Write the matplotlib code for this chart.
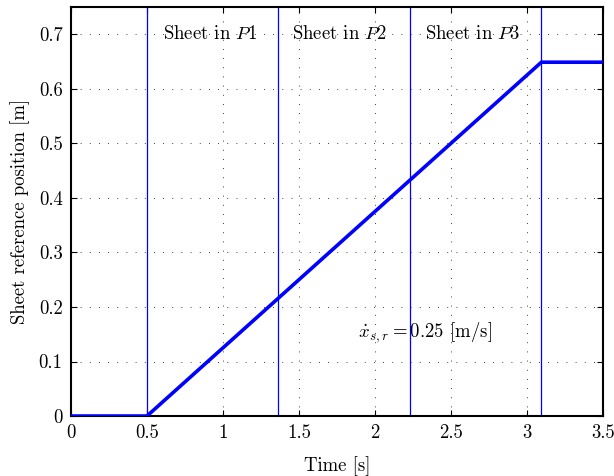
import numpy as np
import matplotlib
matplotlib.use("Agg")
import matplotlib.pyplot as plt

plt.rcParams['font.family'] = ['cmr10', 'DejaVu Serif']
plt.rcParams['mathtext.fontset'] = 'cm'
plt.rcParams['axes.formatter.use_mathtext'] = True

# reference trajectory (time [s], position [m])
time_pts = [0.0, 0.5, 3.095, 3.5]
pos_pts = [0.0, 0.0, 0.649, 0.649]

# sheet passing boundaries
boundary_times = [0.5, 1.365, 2.23, 3.095]

region_labels = [r'Sheet in $\mathit{P1}$', r'Sheet in $\mathit{P2}$', r'Sheet in $\mathit{P3}$']
region_label_x = [0.92, 1.77, 2.64]
region_label_y = 0.70

speed_text = r'$\dot{x}_{s,r} = 0.25$ [m/s]'
speed_text_x = 1.89
speed_text_y = 0.152

x_ticks = [0, 0.5, 1, 1.5, 2, 2.5, 3, 3.5]
x_ticklabels = ['0', '0.5', '1', '1.5', '2', '2.5', '3', '3.5']
y_ticks = [0, 0.1, 0.2, 0.3, 0.4, 0.5, 0.6, 0.7]
y_ticklabels = ['0', '0.1', '0.2', '0.3', '0.4', '0.5', '0.6', '0.7']

fig = plt.figure(figsize=(6.14, 4.76), dpi=100)
ax = fig.add_axes([0.1156, 0.126, 0.8664, 0.859])

for t in boundary_times:
    ax.axvline(t, color='blue', linewidth=0.9, zorder=2)

ax.plot(time_pts, pos_pts, color='blue', linewidth=2.6, zorder=3)

for lab, lx in zip(region_labels, region_label_x):
    ax.text(lx, region_label_y, lab, ha='center', va='center', fontsize=13.5, zorder=4)

ax.text(speed_text_x, speed_text_y, speed_text, ha='left', va='center', fontsize=13.5, zorder=4)

ax.set_xlim(0, 3.5)
ax.set_ylim(0, 0.75)
ax.set_xticks(x_ticks)
ax.set_xticklabels(x_ticklabels)
ax.set_yticks(y_ticks)
ax.set_yticklabels(y_ticklabels)
ax.tick_params(direction='in', top=True, right=True, labelsize=13.5, length=4, width=0.8, pad=6)

ax.grid(True, color='black', linestyle=(0, (1, 10)), linewidth=0.6)
ax.set_axisbelow(True)
for s in ax.spines.values():
    s.set_linewidth(1.5)

ax.set_xlabel('Time [s]', fontsize=13.5, labelpad=10)
ax.set_ylabel('Sheet reference position [m]', fontsize=13.5, labelpad=6)

fig.savefig('out.png', dpi=100)
